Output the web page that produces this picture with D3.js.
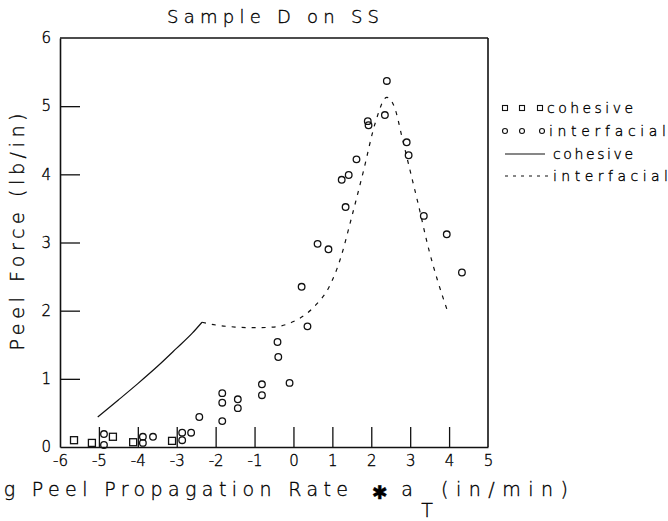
<!DOCTYPE html>
<html>
<head>
<meta charset="utf-8">
<script src="https://cdn.jsdelivr.net/npm/d3@7"></script>
<style>
  html, body { margin: 0; padding: 0; background: #fff; }
  svg { display: block; }
  text { font-family: "DejaVu Sans", sans-serif; font-weight: 200; fill: #000; stroke: #000; stroke-width: 0.35px; }
</style>
</head>
<body>
<svg id="chart" width="668" height="521"></svg>
<script>
// Measured peel force vs. shifted log peel rate
const cohesiveX = [-5.64, -5.18, -4.64, -4.12, -3.12];
const cohesiveY = [0.10, 0.06, 0.15, 0.07, 0.09];

const interfacialX = [-4.87, -4.87, -3.87, -3.87, -3.61, -2.86, -2.86, -2.63, -2.42,
  -1.83, -1.83, -1.83, -1.43, -1.43, -0.81, -0.81, -0.41, -0.39, -0.10, 0.21, 0.36,
  0.62, 0.90, 1.24, 1.34, 1.42, 1.62, 1.91, 1.93, 2.35, 2.40, 2.91, 2.96, 3.35, 3.94, 4.33];
const interfacialY = [0.19, 0.03, 0.15, 0.06, 0.15, 0.21, 0.10, 0.21, 0.44,
  0.65, 0.79, 0.38, 0.70, 0.57, 0.92, 0.76, 1.54, 1.32, 0.94, 2.35, 1.77,
  2.98, 2.90, 3.92, 3.52, 3.99, 4.22, 4.78, 4.72, 4.87, 5.37, 4.47, 4.28, 3.39, 3.12, 2.56];

// Fitted curves
const cohesiveFitX = [-5.03, -4.5, -4.0, -3.5, -3.0, -2.6, -2.35];
const cohesiveFitY = [0.44, 0.69, 0.93, 1.18, 1.45, 1.67, 1.83];

const interfacialFitX = [-2.35, -2.0, -1.5, -1.0, -0.5, 0.0, 0.3, 0.6, 0.9, 1.2, 1.5,
  1.8, 2.1, 2.4, 2.6, 2.8, 3.0, 3.2, 3.5, 3.7, 3.95];
const interfacialFitY = [1.83, 1.79, 1.76, 1.75, 1.76, 1.84, 1.94, 2.10, 2.33, 2.75, 3.38,
  4.05, 4.75, 5.13, 4.98, 4.52, 4.05, 3.58, 2.85, 2.45, 2.01];

const xTickValues = [-6, -5, -4, -3, -2, -1, 0, 1, 2, 3, 4, 5];
const yTickValues = [0, 1, 2, 3, 4, 5, 6];

const legendLabels = ["cohesive", "interfacial", "cohesive", "interfacial"];

const svg = d3.select("#chart");
const ink = "#111";

const plot = { left: 60, right: 488, top: 38, bottom: 447 };

const x = d3.scaleLinear().domain([-6, 5]).range([plot.left, plot.right]);
const y = d3.scaleLinear().domain([0, 6]).range([plot.bottom, plot.top]);

// Axes with inward ticks
const xAxis = d3.axisBottom(x).tickValues(xTickValues).tickSizeInner(-20).tickSizeOuter(0).tickPadding(8)
  .tickFormat(d => d < 0 ? "-" + Math.abs(d) : String(d));
const yAxis = d3.axisLeft(y).tickValues(yTickValues).tickSizeInner(-20).tickSizeOuter(0).tickPadding(9)
  .tickFormat(d3.format("d"));

const gx = svg.append("g").attr("transform", `translate(0,${plot.bottom})`).call(xAxis);
const gy = svg.append("g").attr("transform", `translate(${plot.left},0)`).call(yAxis);

[gx, gy].forEach(g => {
  g.selectAll(".domain").attr("stroke", ink).attr("stroke-width", 1.6);
  g.selectAll(".tick line").attr("stroke", ink).attr("stroke-width", 1.3);
  g.selectAll(".tick text").attr("fill", "#000").attr("stroke", "#000").attr("stroke-width", 0.35)
    .style("font-size", "15px").style("font-family", "DejaVu Sans, sans-serif").style("font-weight", "200");
});
gx.selectAll(".tick line").filter(d => d === -6 || d === 5).remove();
gy.selectAll(".tick line").filter(d => d === 0 || d === 6).remove();

// Top and right frame
svg.append("line").attr("x1", plot.left).attr("x2", plot.right).attr("y1", plot.top).attr("y2", plot.top)
  .attr("stroke", ink).attr("stroke-width", 1.6);
svg.append("line").attr("x1", plot.right).attr("x2", plot.right).attr("y1", plot.top).attr("y2", plot.bottom)
  .attr("stroke", ink).attr("stroke-width", 1.6);

// Fitted lines
const line = d3.line().x(d => x(d[0])).y(d => y(d[1])).curve(d3.curveMonotoneX);

svg.append("path")
  .datum(d3.zip(cohesiveFitX, cohesiveFitY))
  .attr("d", line).attr("fill", "none").attr("stroke", ink).attr("stroke-width", 1.2);

svg.append("path")
  .datum(d3.zip(interfacialFitX, interfacialFitY))
  .attr("d", line).attr("fill", "none").attr("stroke", ink).attr("stroke-width", 1.2)
  .attr("stroke-dasharray", "4,6");

// Markers
const sq = 7;
svg.append("g").selectAll("rect")
  .data(d3.zip(cohesiveX, cohesiveY))
  .join("rect")
  .attr("x", d => x(d[0]) - sq / 2).attr("y", d => y(d[1]) - sq / 2)
  .attr("width", sq).attr("height", sq)
  .attr("fill", "none").attr("stroke", ink).attr("stroke-width", 1.3);

svg.append("g").selectAll("circle")
  .data(d3.zip(interfacialX, interfacialY))
  .join("circle")
  .attr("cx", d => x(d[0])).attr("cy", d => y(d[1])).attr("r", 3.3)
  .attr("fill", "none").attr("stroke", ink).attr("stroke-width", 1.3);

// Title and axis titles
svg.append("text").attr("x", 167).attr("y", 23)
  .attr("textLength", 212).attr("lengthAdjust", "spacing")
  .style("font-size", "18px").text("Sample D on SS");

svg.append("text")
  .attr("transform", "translate(24,232) rotate(-90)")
  .attr("text-anchor", "middle")
  .attr("textLength", 237).attr("lengthAdjust", "spacing")
  .style("font-size", "19px").text("Peel Force (lb/in)");

const xl = svg.append("g");
xl.append("text").attr("x", -29).attr("y", 496)
  .attr("textLength", 377).attr("lengthAdjust", "spacing")
  .style("font-size", "19px").text("Log Peel Propagation Rate");
xl.append("text").attr("x", 380).attr("y", 499).attr("text-anchor", "middle")
  .style("font-size", "19px").style("font-weight", "400").text("✱");
xl.append("text").attr("x", 407).attr("y", 496).attr("text-anchor", "middle")
  .style("font-size", "19px").text("a");
xl.append("text").attr("x", 427).attr("y", 517).attr("text-anchor", "middle")
  .style("font-size", "19px").text("T");
xl.append("text").attr("x", 441).attr("y", 496)
  .attr("textLength", 127).attr("lengthAdjust", "spacing")
  .style("font-size", "19px").text("(in/min)");

// Legend
const legRows = [108, 131, 154, 176];
const lg = svg.append("g");
[505, 522, 540].forEach(px => {
  lg.append("rect").attr("x", px - 2.5).attr("y", legRows[0] - 2.5).attr("width", 5).attr("height", 5)
    .attr("fill", "none").attr("stroke", ink).attr("stroke-width", 1.1);
});
[505, 522, 542].forEach(px => {
  lg.append("circle").attr("cx", px).attr("cy", legRows[1]).attr("r", 2.5)
    .attr("fill", "none").attr("stroke", ink).attr("stroke-width", 1.1);
});
lg.append("line").attr("x1", 505).attr("x2", 545).attr("y1", legRows[2]).attr("y2", legRows[2])
  .attr("stroke", ink).attr("stroke-width", 1.2);
lg.append("line").attr("x1", 505).attr("x2", 551).attr("y1", legRows[3]).attr("y2", legRows[3])
  .attr("stroke", ink).attr("stroke-width", 1.2).attr("stroke-dasharray", "3,5");

const legX = [547, 549, 553, 553];
const legW = [86, 117, 80, 115];
legendLabels.forEach((t, i) => {
  lg.append("text").attr("x", legX[i]).attr("y", legRows[i] + 5)
    .attr("textLength", legW[i]).attr("lengthAdjust", "spacing")
    .style("font-size", "14px").text(t);
});
</script>
</body>
</html>
